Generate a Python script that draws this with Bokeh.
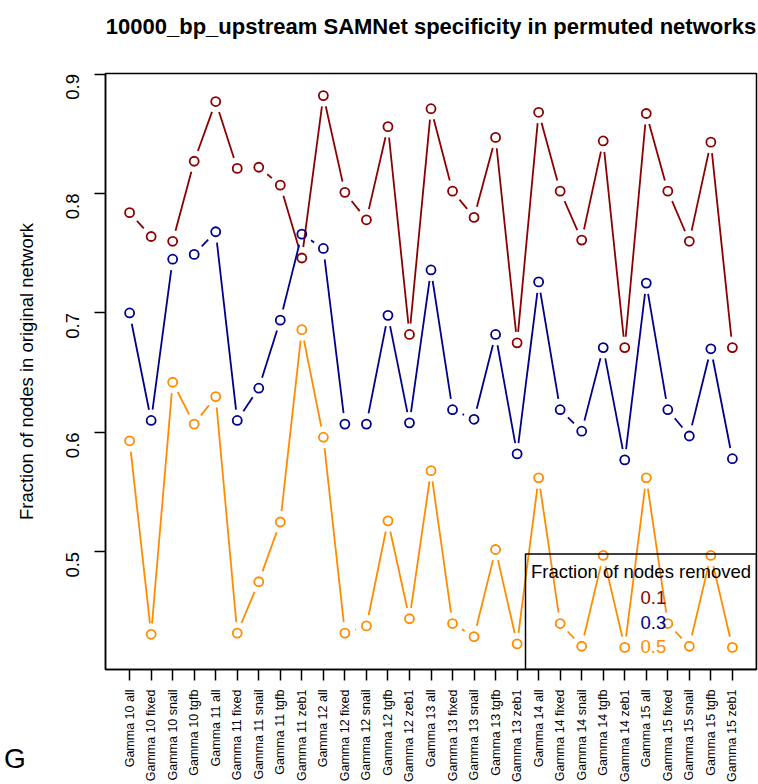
import math
from bokeh.plotting import figure
from bokeh.layouts import column
from bokeh.models import Range1d, FixedTicker, Label, BoxAnnotation, Div, Title
from bokeh.embed import file_html
from bokeh.resources import INLINE

# ---------------- data ----------------
categories = [
    "Gamma 10 all", "Gamma 10 fixed", "Gamma 10 snail", "Gamma 10 tgfb",
    "Gamma 11 all", "Gamma 11 fixed", "Gamma 11 snail", "Gamma 11 tgfb", "Gamma 11 zeb1",
    "Gamma 12 all", "Gamma 12 fixed", "Gamma 12 snail", "Gamma 12 tgfb", "Gamma 12 zeb1",
    "Gamma 13 all", "Gamma 13 fixed", "Gamma 13 snail", "Gamma 13 tgfb", "Gamma 13 zeb1",
    "Gamma 14 all", "Gamma 14 fixed", "Gamma 14 snail", "Gamma 14 tgfb", "Gamma 14 zeb1",
    "Gamma 15 all", "Gamma 15 fixed", "Gamma 15 snail", "Gamma 15 tgfb", "Gamma 15 zeb1",
]
removed_01 = [0.784, 0.764, 0.760, 0.827, 0.877, 0.821, 0.822, 0.807, 0.746,
              0.882, 0.801, 0.778, 0.856, 0.682, 0.871, 0.802, 0.780, 0.847,
              0.675, 0.868, 0.802, 0.761, 0.844, 0.671, 0.867, 0.802, 0.760,
              0.843, 0.671]
removed_03 = [0.700, 0.610, 0.745, 0.749, 0.768, 0.610, 0.637, 0.694, 0.766,
              0.754, 0.607, 0.607, 0.698, 0.608, 0.736, 0.619, 0.611, 0.682,
              0.582, 0.726, 0.619, 0.601, 0.671, 0.577, 0.725, 0.619, 0.597,
              0.670, 0.578]
removed_05 = [0.593, 0.431, 0.642, 0.607, 0.630, 0.432, 0.475, 0.525, 0.686,
              0.596, 0.432, 0.438, 0.526, 0.444, 0.568, 0.440, 0.429, 0.502,
              0.423, 0.562, 0.440, 0.421, 0.497, 0.420, 0.562, 0.440, 0.421,
              0.497, 0.420]
series_names = ["0.1", "0.3", "0.5"]
series_values = [removed_01, removed_03, removed_05]
series_colors = ["#8B0000", "#00008B", "#FF8C00"]
y_ticks = [0.5, 0.6, 0.7, 0.8, 0.9]

title = "10000_bp_upstream SAMNet specificity in permuted networks"
y_label = "Fraction of nodes in original network"
legend_title = "Fraction of nodes removed"
panel_letter = "G"

FONT = "Liberation Sans"

# ---------------- ranges (R style 4% extension) ----------------
n = len(categories)
xs = list(range(n))
allv = removed_01 + removed_03 + removed_05
vmin, vmax = min(allv), max(allv)
ypad = 0.04 * (vmax - vmin)
y0, y1 = vmin - ypad, vmax + ypad
xpad = 0.04 * (n - 1)
x0, x1 = -xpad, (n - 1) + xpad

W, H = 758, 784
ML, MR, MT, MB = 105, 2, 73, 112
FW, FH = W - ML - MR, H - MT - MB

p = figure(width=W, height=H, output_backend="svg", toolbar_location=None,
           x_range=Range1d(x0, x1), y_range=Range1d(y0, y1),
           min_border_left=ML, min_border_right=MR, min_border_top=MT,
           min_border_bottom=MB)

# real title (outermost) plus a blank spacer title next to the frame
p.title.text = title
p.title.align = "center"
p.title.text_font = FONT
p.title.text_font_size = "22px"
p.title.text_font_style = "bold"
p.title.text_color = "black"
p.title.standoff = 20
spacer = Title(text=" ", text_font=FONT, text_font_size="14px", standoff=7)
p.add_layout(spacer, "above")

p.xgrid.visible = False
p.ygrid.visible = False
p.outline_line_color = "black"
p.outline_line_width = 1.5
p.outline_line_alpha = 1.0

# x axis
xa = p.xaxis[0]
xa.ticker = FixedTicker(ticks=xs)
xa.major_label_overrides = {i: c for i, c in enumerate(categories)}
xa.major_label_orientation = math.pi / 2
xa.major_label_text_font = FONT
xa.major_label_text_font_size = "12.5px"
xa.major_label_text_color = "black"
xa.major_tick_out = 11
xa.major_tick_in = 0
xa.minor_tick_out = 0
xa.minor_tick_in = 0
xa.major_label_standoff = 9
xa.axis_line_width = 1.5
xa.major_tick_line_width = 1.5

# y axis
ya = p.yaxis[0]
ya.ticker = FixedTicker(ticks=y_ticks)
ya.major_label_orientation = math.pi / 2
ya.major_label_text_font = FONT
ya.major_label_text_font_size = "18.5px"
ya.major_label_text_color = "black"
ya.major_tick_out = 11
ya.major_tick_in = 0
ya.minor_tick_out = 0
ya.minor_tick_in = 0
ya.major_label_standoff = 22
ya.axis_line_width = 1.5
ya.major_tick_line_width = 1.5
ya.axis_label = y_label
ya.axis_label_text_font = FONT
ya.axis_label_text_font_size = "18.5px"
ya.axis_label_text_font_style = "normal"
ya.axis_label_text_color = "black"
ya.axis_label_standoff = 20

# ---------------- series (R type="b": lines with gaps around points) ----------------
px_x = FW / (x1 - x0)
px_y = FH / (y1 - y0)
GAP = 11.0
for vals, col in zip(series_values, series_colors):
    sx0, sy0, sx1, sy1 = [], [], [], []
    for i in range(n - 1):
        dxp = px_x * (xs[i + 1] - xs[i])
        dyp = px_y * (vals[i + 1] - vals[i])
        L = math.hypot(dxp, dyp)
        if L <= 2 * GAP:
            continue
        f = GAP / L
        sx0.append(xs[i] + f * (xs[i + 1] - xs[i]))
        sy0.append(vals[i] + f * (vals[i + 1] - vals[i]))
        sx1.append(xs[i + 1] - f * (xs[i + 1] - xs[i]))
        sy1.append(vals[i + 1] - f * (vals[i + 1] - vals[i]))
    p.segment(x0=sx0, y0=sy0, x1=sx1, y1=sy1, line_color=col, line_width=1.8)
    p.scatter(x=xs, y=vals, marker="circle", size=9, fill_color=None,
              line_color=col, line_width=1.8)

# ---------------- legend (R style, text only) ----------------
def dx(px):
    return x0 + (px - ML) / px_x

def dy(py):
    return y1 - (py - MT) / px_y

box = BoxAnnotation(left=dx(525), top=dy(556), fill_color=None, fill_alpha=0,
                    line_color="black", line_width=1.5, line_alpha=1.0)
p.add_layout(box)
p.add_layout(Label(x=dx(640.5), y=dy(574), text=legend_title, text_font=FONT,
                   text_font_size="18.5px", text_align="center",
                   text_baseline="middle", text_color="black"))
for k, (name, col) in enumerate(zip(series_names, series_colors)):
    p.add_layout(Label(x=dx(640), y=dy(600 + 24.5 * k), text=name, text_font=FONT,
                       text_font_size="18.5px", text_align="left",
                       text_baseline="middle", text_color=col))

# panel letter in the lower-left corner, overlaid on the figure's margin
letter = Div(text=panel_letter, width=30, height=34, margin=(-42, 0, 0, 4),
             styles={"font-family": FONT, "font-size": "28px", "color": "black",
                     "line-height": "34px"})

layout = column(p, letter, spacing=0)
open("out.html", "w").write(file_html(layout, INLINE))
